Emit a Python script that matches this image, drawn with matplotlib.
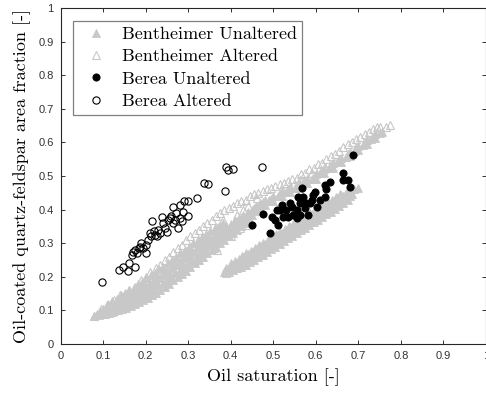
import numpy as np
import matplotlib
matplotlib.use("Agg")
from matplotlib import pyplot as plt

# Bentheimer unaltered (filled grey triangles)
bent_unalt = np.array([
    (0.078, 0.083), (0.085, 0.09), (0.09, 0.085), (0.092, 0.098), (0.10, 0.09), (0.10, 0.105),
    (0.11, 0.095), (0.11, 0.11), (0.112, 0.12), (0.12, 0.10), (0.12, 0.115), (0.122, 0.128),
    (0.13, 0.105), (0.13, 0.12), (0.132, 0.135), (0.14, 0.11), (0.14, 0.128), (0.142, 0.145),
    (0.15, 0.115), (0.15, 0.135), (0.152, 0.152), (0.16, 0.12), (0.16, 0.14), (0.162, 0.16),
    (0.17, 0.128), (0.17, 0.148), (0.172, 0.168), (0.18, 0.135), (0.18, 0.158), (0.182, 0.178),
    (0.19, 0.142), (0.19, 0.165), (0.192, 0.185), (0.20, 0.15), (0.20, 0.172), (0.202, 0.195),
    (0.21, 0.158), (0.21, 0.182), (0.212, 0.205), (0.22, 0.165), (0.22, 0.19), (0.222, 0.212),
    (0.23, 0.175), (0.23, 0.20), (0.232, 0.222), (0.24, 0.183), (0.24, 0.208), (0.242, 0.23),
    (0.25, 0.19), (0.25, 0.218), (0.252, 0.24), (0.26, 0.20), (0.26, 0.228), (0.262, 0.25),
    (0.27, 0.21), (0.27, 0.238), (0.272, 0.26), (0.28, 0.22), (0.28, 0.248), (0.282, 0.27),
    (0.29, 0.23), (0.29, 0.258), (0.292, 0.28), (0.30, 0.24), (0.30, 0.268), (0.302, 0.29),
    (0.31, 0.25), (0.31, 0.278), (0.312, 0.30), (0.32, 0.262), (0.32, 0.288), (0.322, 0.31),
    (0.33, 0.272), (0.33, 0.298), (0.332, 0.318), (0.34, 0.282), (0.34, 0.306), (0.342, 0.326),
    (0.35, 0.292), (0.35, 0.315), (0.352, 0.335), (0.36, 0.30), (0.36, 0.325), (0.362, 0.344),
    (0.37, 0.31), (0.37, 0.333), (0.372, 0.352), (0.38, 0.318), (0.38, 0.342), (0.382, 0.36),
    (0.39, 0.328), (0.39, 0.35), (0.40, 0.336), (0.40, 0.358), (0.41, 0.345), (0.41, 0.368),
    (0.42, 0.355), (0.42, 0.376), (0.43, 0.365), (0.43, 0.385), (0.44, 0.375), (0.44, 0.393),
    (0.45, 0.385), (0.45, 0.40), (0.46, 0.395), (0.46, 0.41), (0.47, 0.405), (0.47, 0.42),
    (0.48, 0.415), (0.48, 0.43), (0.49, 0.425), (0.50, 0.425), (0.50, 0.44), (0.51, 0.44),
    (0.52, 0.44), (0.52, 0.452), (0.53, 0.452), (0.54, 0.452), (0.54, 0.465), (0.55, 0.465),
    (0.56, 0.465), (0.56, 0.478), (0.57, 0.478), (0.58, 0.478), (0.58, 0.49), (0.59, 0.492),
    (0.60, 0.492), (0.60, 0.505), (0.61, 0.508), (0.62, 0.508), (0.62, 0.522), (0.63, 0.525),
    (0.64, 0.525), (0.64, 0.54), (0.65, 0.542), (0.66, 0.542), (0.66, 0.555), (0.67, 0.558),
    (0.68, 0.56), (0.68, 0.572), (0.69, 0.575), (0.70, 0.578), (0.70, 0.59), (0.71, 0.592),
    (0.72, 0.595), (0.72, 0.607), (0.73, 0.61), (0.74, 0.612), (0.74, 0.625), (0.75, 0.628),
    (0.755, 0.632),
    (0.105, 0.088), (0.105, 0.10), (0.115, 0.092), (0.115, 0.105), (0.125, 0.097), (0.125, 0.11),
    (0.135, 0.10), (0.135, 0.116), (0.145, 0.105), (0.145, 0.122), (0.155, 0.108), (0.155, 0.13),
    (0.165, 0.113), (0.165, 0.138), (0.175, 0.118), (0.175, 0.146), (0.185, 0.124), (0.185, 0.154),
    (0.195, 0.13), (0.195, 0.162), (0.205, 0.137), (0.205, 0.17), (0.215, 0.145), (0.215, 0.178),
    (0.225, 0.153), (0.225, 0.188), (0.235, 0.162), (0.235, 0.196), (0.245, 0.17), (0.245, 0.205),
    (0.255, 0.18), (0.255, 0.215), (0.265, 0.19), (0.265, 0.225), (0.275, 0.198), (0.275, 0.235),
    (0.285, 0.208), (0.285, 0.245), (0.295, 0.218), (0.295, 0.255), (0.305, 0.228), (0.305, 0.265),
    (0.315, 0.24), (0.315, 0.275), (0.325, 0.25), (0.325, 0.285), (0.335, 0.26), (0.335, 0.293),
    (0.345, 0.27), (0.345, 0.302), (0.355, 0.28), (0.355, 0.31), (0.365, 0.29), (0.365, 0.32),
    (0.375, 0.30), (0.375, 0.33), (0.385, 0.31), (0.385, 0.338), (0.395, 0.32), (0.395, 0.346),
    (0.405, 0.33), (0.405, 0.355), (0.415, 0.34), (0.415, 0.362), (0.425, 0.35), (0.425, 0.37),
    (0.435, 0.36), (0.435, 0.378), (0.445, 0.37), (0.445, 0.386),
    (0.455, 0.404), (0.475, 0.42), (0.495, 0.433), (0.515, 0.447), (0.535, 0.46), (0.555, 0.472),
    (0.575, 0.485), (0.595, 0.498), (0.615, 0.515), (0.635, 0.532), (0.655, 0.548), (0.675, 0.565),
    (0.695, 0.582), (0.715, 0.60), (0.735, 0.617),
    # lower right band
    (0.385, 0.215), (0.39, 0.225), (0.395, 0.215), (0.398, 0.23), (0.405, 0.22), (0.405, 0.235),
    (0.415, 0.225), (0.415, 0.242), (0.425, 0.23), (0.425, 0.25), (0.427, 0.262),
    (0.435, 0.235), (0.435, 0.255), (0.437, 0.27), (0.445, 0.243), (0.445, 0.262), (0.447, 0.278),
    (0.455, 0.25), (0.455, 0.27), (0.457, 0.286), (0.465, 0.258), (0.465, 0.278), (0.467, 0.294),
    (0.475, 0.266), (0.475, 0.286), (0.477, 0.302), (0.485, 0.274), (0.485, 0.294), (0.487, 0.31),
    (0.495, 0.282), (0.495, 0.302), (0.497, 0.318), (0.505, 0.29), (0.505, 0.31), (0.507, 0.326),
    (0.515, 0.298), (0.515, 0.318), (0.517, 0.334), (0.525, 0.306), (0.525, 0.326), (0.527, 0.342),
    (0.535, 0.314), (0.535, 0.334), (0.537, 0.35), (0.545, 0.322), (0.545, 0.342), (0.547, 0.358),
    (0.555, 0.33), (0.555, 0.35), (0.557, 0.366), (0.565, 0.338), (0.565, 0.358), (0.567, 0.374),
    (0.575, 0.346), (0.575, 0.366), (0.577, 0.382), (0.585, 0.354), (0.585, 0.374), (0.587, 0.39),
    (0.595, 0.362), (0.595, 0.382), (0.597, 0.398), (0.605, 0.37), (0.605, 0.39), (0.607, 0.406),
    (0.615, 0.378), (0.615, 0.398), (0.617, 0.414), (0.625, 0.386), (0.625, 0.406), (0.627, 0.422),
    (0.635, 0.394), (0.635, 0.414), (0.637, 0.43), (0.645, 0.402), (0.645, 0.422), (0.647, 0.438),
    (0.655, 0.41), (0.655, 0.43), (0.657, 0.446), (0.665, 0.42), (0.665, 0.44),
    (0.675, 0.43), (0.675, 0.45), (0.685, 0.445), (0.69, 0.46), (0.70, 0.465),
    (0.39, 0.212), (0.40, 0.222), (0.40, 0.24), (0.41, 0.226), (0.41, 0.246), (0.42, 0.232),
    (0.42, 0.252), (0.43, 0.24), (0.43, 0.26), (0.44, 0.247), (0.44, 0.267), (0.45, 0.255),
    (0.45, 0.275), (0.46, 0.263), (0.46, 0.283), (0.47, 0.271), (0.47, 0.291), (0.48, 0.279),
    (0.48, 0.299), (0.49, 0.287), (0.49, 0.307), (0.50, 0.295), (0.50, 0.315), (0.51, 0.303),
    (0.51, 0.323), (0.52, 0.311), (0.52, 0.331), (0.53, 0.319), (0.53, 0.339), (0.54, 0.327),
    (0.54, 0.347), (0.55, 0.335), (0.55, 0.355), (0.56, 0.343), (0.56, 0.363), (0.57, 0.351),
    (0.57, 0.371), (0.58, 0.359), (0.58, 0.379), (0.59, 0.367), (0.59, 0.387), (0.60, 0.375),
    (0.60, 0.395), (0.61, 0.383), (0.61, 0.403), (0.62, 0.391), (0.62, 0.411), (0.63, 0.399),
    (0.63, 0.419), (0.64, 0.407), (0.64, 0.427), (0.65, 0.415), (0.65, 0.435), (0.66, 0.425),
    (0.66, 0.443), (0.67, 0.435), (0.67, 0.45), (0.68, 0.44), (0.68, 0.455),
])

# Bentheimer altered (open grey triangles)
bent_alt = np.array([
    (0.078, 0.082), (0.095, 0.105), (0.11, 0.115), (0.125, 0.13), (0.135, 0.13), (0.14, 0.145),
    (0.15, 0.125), (0.16, 0.16), (0.175, 0.17), (0.19, 0.19), (0.20, 0.20), (0.21, 0.215),
    (0.215, 0.16), (0.225, 0.225), (0.235, 0.235), (0.245, 0.25), (0.255, 0.26), (0.26, 0.21),
    (0.265, 0.275), (0.275, 0.285), (0.285, 0.295), (0.29, 0.24), (0.295, 0.31), (0.305, 0.32),
    (0.31, 0.265), (0.315, 0.33), (0.325, 0.34), (0.33, 0.285), (0.335, 0.35), (0.345, 0.36),
    (0.35, 0.30), (0.355, 0.37), (0.365, 0.38), (0.367, 0.28), (0.368, 0.344), (0.375, 0.39),
    (0.383, 0.369), (0.385, 0.40), (0.39, 0.335), (0.395, 0.405), (0.405, 0.41), (0.414, 0.384),
    (0.415, 0.42), (0.422, 0.344), (0.425, 0.425), (0.43, 0.399), (0.435, 0.43), (0.44, 0.41),
    (0.445, 0.44), (0.455, 0.445), (0.461, 0.434), (0.465, 0.45), (0.477, 0.424), (0.475, 0.455),
    (0.485, 0.46), (0.49, 0.43), (0.495, 0.465), (0.505, 0.47), (0.515, 0.475), (0.52, 0.458),
    (0.525, 0.48), (0.535, 0.485), (0.539, 0.468), (0.545, 0.49), (0.555, 0.495), (0.563, 0.488),
    (0.565, 0.505), (0.575, 0.51), (0.585, 0.52), (0.59, 0.508), (0.595, 0.525), (0.605, 0.535),
    (0.615, 0.54), (0.622, 0.528), (0.625, 0.55), (0.635, 0.56), (0.645, 0.565), (0.655, 0.575),
    (0.665, 0.585), (0.675, 0.595), (0.685, 0.60), (0.695, 0.61), (0.705, 0.615), (0.715, 0.625),
    (0.72, 0.61), (0.725, 0.63), (0.735, 0.64), (0.745, 0.63), (0.745, 0.645), (0.751, 0.647),
    (0.765, 0.645), (0.774, 0.652),
    (0.12, 0.095), (0.17, 0.125), (0.20, 0.145), (0.23, 0.17), (0.25, 0.19), (0.28, 0.215),
    (0.32, 0.25), (0.36, 0.285), (0.40, 0.32), (0.44, 0.355),
])

# Berea unaltered (filled black circles)
berea_unalt = np.array([
    (0.449, 0.353), (0.475, 0.387), (0.492, 0.331), (0.496, 0.379), (0.504, 0.369), (0.508, 0.40),
    (0.512, 0.354), (0.516, 0.399), (0.52, 0.414), (0.524, 0.379), (0.531, 0.399), (0.535, 0.379),
    (0.539, 0.419), (0.543, 0.409), (0.547, 0.384), (0.555, 0.399), (0.555, 0.374), (0.559, 0.438),
    (0.563, 0.419), (0.563, 0.384), (0.567, 0.463), (0.571, 0.438), (0.575, 0.404), (0.577, 0.42),
    (0.582, 0.384), (0.586, 0.419), (0.59, 0.43), (0.594, 0.443), (0.598, 0.453), (0.602, 0.409),
    (0.61, 0.429), (0.622, 0.438), (0.622, 0.473), (0.623, 0.46), (0.633, 0.483), (0.665, 0.508),
    (0.665, 0.488), (0.676, 0.488), (0.68, 0.468), (0.687, 0.5625),
])

# Berea altered (open black circles)
berea_alt = np.array([
    (0.098, 0.184), (0.138, 0.22), (0.148, 0.23), (0.159, 0.217), (0.162, 0.24), (0.175, 0.228),
    (0.171, 0.275), (0.168, 0.265), (0.175, 0.28), (0.18, 0.27), (0.185, 0.285), (0.187, 0.29),
    (0.19, 0.30), (0.195, 0.285), (0.20, 0.27), (0.20, 0.295), (0.205, 0.31), (0.21, 0.33),
    (0.213, 0.32), (0.216, 0.365), (0.22, 0.335), (0.222, 0.325), (0.226, 0.32), (0.23, 0.34),
    (0.235, 0.33), (0.238, 0.377), (0.24, 0.36), (0.245, 0.345), (0.25, 0.334), (0.252, 0.37),
    (0.257, 0.374), (0.26, 0.38), (0.265, 0.408), (0.265, 0.36), (0.27, 0.37), (0.272, 0.39),
    (0.276, 0.345), (0.28, 0.413), (0.282, 0.375), (0.286, 0.366), (0.289, 0.392), (0.29, 0.427),
    (0.299, 0.427), (0.30, 0.38), (0.321, 0.434), (0.338, 0.478), (0.347, 0.475), (0.387, 0.454),
    (0.39, 0.526), (0.393, 0.518), (0.406, 0.522), (0.473, 0.528),
])

grey = "#c8c8c8"
serif = "cmr10"

fig = plt.figure(figsize=(4.86, 3.94), dpi=100)
ax = fig.add_axes([0.1245, 0.1269, 0.8755, 0.8528])

ax.plot(bent_unalt[:, 0], bent_unalt[:, 1], "^", ms=5.5, mfc=grey, mec=grey, mew=0.6,
        ls="none", label="Bentheimer Unaltered")
ax.plot(bent_alt[:, 0], bent_alt[:, 1], "^", ms=5.5, mfc="none", mec=grey, mew=0.8,
        ls="none", label="Bentheimer Altered")
ax.plot(berea_unalt[:, 0], berea_unalt[:, 1], "o", ms=5.2, mfc="k", mec="k", mew=0.6,
        ls="none", label="Berea Unaltered")
ax.plot(berea_alt[:, 0], berea_alt[:, 1], "o", ms=5.2, mfc="none", mec="k", mew=0.8,
        ls="none", label="Berea Altered")

ax.set_xlim(0, 1)
ax.set_ylim(0, 1)
ticks = np.arange(0, 1.01, 0.1)
tick_labels = ["0", "0.1", "0.2", "0.3", "0.4", "0.5", "0.6", "0.7", "0.8", "0.9", "1"]
ax.set_xticks(ticks)
ax.set_yticks(ticks)
ax.set_xticklabels(tick_labels)
ax.set_yticklabels(tick_labels)
ax.tick_params(direction="in", top=True, right=True, length=3, width=0.7,
               labelsize=8, colors="#333333", pad=5)
for lab in ax.get_xticklabels() + ax.get_yticklabels():
    lab.set_fontfamily("Liberation Sans")
for s in ax.spines.values():
    s.set_linewidth(0.8)
    s.set_color("#262626")

ax.set_xlabel("Oil saturation [-]", fontfamily=serif, fontsize=13, labelpad=5)
ax.set_ylabel("Oil-coated quartz-feldspar area fraction [-]", fontfamily=serif,
              fontsize=13, labelpad=5)

leg = ax.legend(loc="upper left", bbox_to_anchor=(0.029, 0.961), borderaxespad=0,
                fancybox=False, edgecolor="#808080", framealpha=1,
                prop={"family": serif, "size": 13}, labelspacing=0.37,
                handletextpad=0.4, borderpad=0.3, handlelength=2.0)
leg.get_frame().set_linewidth(0.9)

fig.savefig("out.png", dpi=100)
